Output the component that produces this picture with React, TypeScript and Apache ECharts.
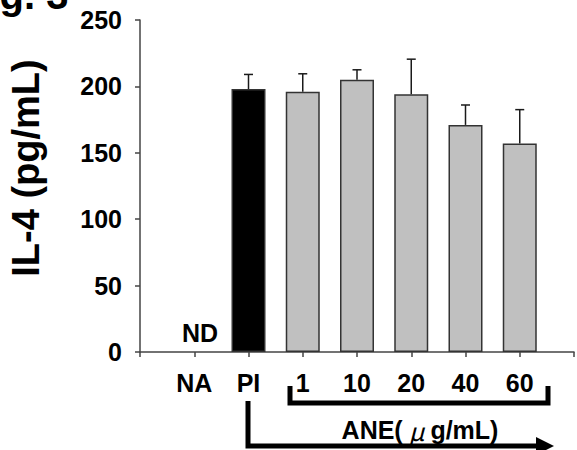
import React, { useEffect, useRef } from "react";
import * as echarts from "echarts";

const categories = ["", "NA", "PI", "1", "10", "20", "40", "60", ""];
const means: (number | null)[] = [null, null, 198, 196, 205, 194, 171, 157, null];
const errors: (number | null)[] = [null, null, 11, 13.5, 7.5, 26.5, 15, 25.5, null];
const yTicks = { min: 0, max: 250, interval: 50 };
const FONT = "'Liberation Sans', Arial, Helvetica, sans-serif";

export default function App() {
  const ref = useRef<HTMLDivElement>(null);
  useEffect(() => {
    if (!ref.current) return;
    const chart = echarts.init(ref.current, undefined, { renderer: "svg" });
    const errData = means
      .map((m, i) => (m != null && errors[i] != null ? [i, m, m + (errors[i] as number)] : null))
      .filter((d) => d !== null);
    chart.setOption({
      animation: false,
      backgroundColor: "#ffffff",
      grid: { left: 140, right: -5, top: 20, bottom: 98, containLabel: false },
      xAxis: {
        type: "category",
        data: categories,
        boundaryGap: false,
        axisLine: { show: true, lineStyle: { color: "#444", width: 1.5 } },
        axisTick: { show: true, length: 5, lineStyle: { color: "#444", width: 1.5 } },
        axisLabel: {
          interval: 0,
          margin: 18,
          color: "#000",
          fontSize: 25,
          fontWeight: "bold",
          fontFamily: FONT,
        },
        splitLine: { show: false },
      },
      yAxis: {
        type: "value",
        min: yTicks.min,
        max: yTicks.max,
        interval: yTicks.interval,
        axisLine: { show: true, lineStyle: { color: "#444", width: 1.5 } },
        axisTick: { show: true, length: 5, lineStyle: { color: "#444", width: 1.5 } },
        axisLabel: {
          margin: 18,
          color: "#000",
          fontSize: 25,
          fontWeight: "bold",
          fontFamily: FONT,
        },
        splitLine: { show: false },
      },
      series: [
        {
          type: "bar",
          barWidth: 34,
          data: means.map((v, i) => ({
            value: v,
            itemStyle: {
              color: categories[i] === "PI" ? "#000000" : "#c0c0c0",
              borderColor: "#333",
              borderWidth: 1.5,
            },
          })),
          z: 2,
        },
        {
          type: "custom",
          z: 3,
          data: errData,
          renderItem: (params: any, api: any) => {
            const x = api.value(0);
            const m = api.value(1);
            const hi = api.value(2);
            const p1 = api.coord([x, m]);
            const p2 = api.coord([x, hi]);
            const style = { stroke: "#1a1a1a", lineWidth: 1.5 };
            return {
              type: "group",
              children: [
                { type: "line", shape: { x1: p1[0], y1: p1[1], x2: p2[0], y2: p2[1] }, style },
                { type: "line", shape: { x1: p2[0] - 4.5, y1: p2[1], x2: p2[0] + 4.5, y2: p2[1] }, style },
              ],
            };
          },
        },
      ],
      graphic: [
        {
          type: "text",
          x: -36,
          y: 15,
          style: {
            text: "Fig. 3",
            font: `bold 40px ${FONT}`,
            fill: "#000",
            align: "left",
            verticalAlign: "bottom",
          },
        },
        {
          type: "text",
          x: 26,
          y: 168,
          rotation: Math.PI / 2,
          style: {
            text: "IL-4 (pg/mL)",
            font: `bold 38px ${FONT}`,
            fill: "#000",
            align: "center",
            verticalAlign: "middle",
          },
        },
        {
          type: "text",
          x: 200,
          y: 333,
          style: {
            text: "ND",
            font: `bold 25px ${FONT}`,
            fill: "#000",
            align: "center",
            verticalAlign: "middle",
          },
        },
        {
          type: "polyline",
          shape: { points: [[290, 386], [290, 403], [548, 403], [548, 386]] },
          style: { stroke: "#000", lineWidth: 5, fill: "none", lineJoin: "miter" },
        },
        {
          type: "polyline",
          shape: { points: [[248, 401], [248, 446], [540, 446]] },
          style: { stroke: "#000", lineWidth: 5, fill: "none", lineJoin: "miter" },
        },
        {
          type: "polygon",
          shape: { points: [[536, 437], [554, 446], [536, 455]] },
          style: { fill: "#000" },
        },
        {
          type: "text",
          x: 420,
          y: 430,
          style: {
            text: "{a|ANE(}{m|μ}{a|g/mL)}",
            align: "center",
            verticalAlign: "middle",
            rich: {
              a: { font: `bold 25px ${FONT}`, fill: "#000", color: "#000" },
              m: {
                font: `italic 25px 'Noto Sans CJK JP', ${FONT}`,
                fill: "#000",
                color: "#000",
                padding: [0, 6, 0, 6],
              },
            },
          },
        },
      ],
    });
    return () => chart.dispose();
  }, []);
  return <div ref={ref} style={{ width: 577, height: 450, position: "absolute", left: 0, top: 0 }} />;
}
